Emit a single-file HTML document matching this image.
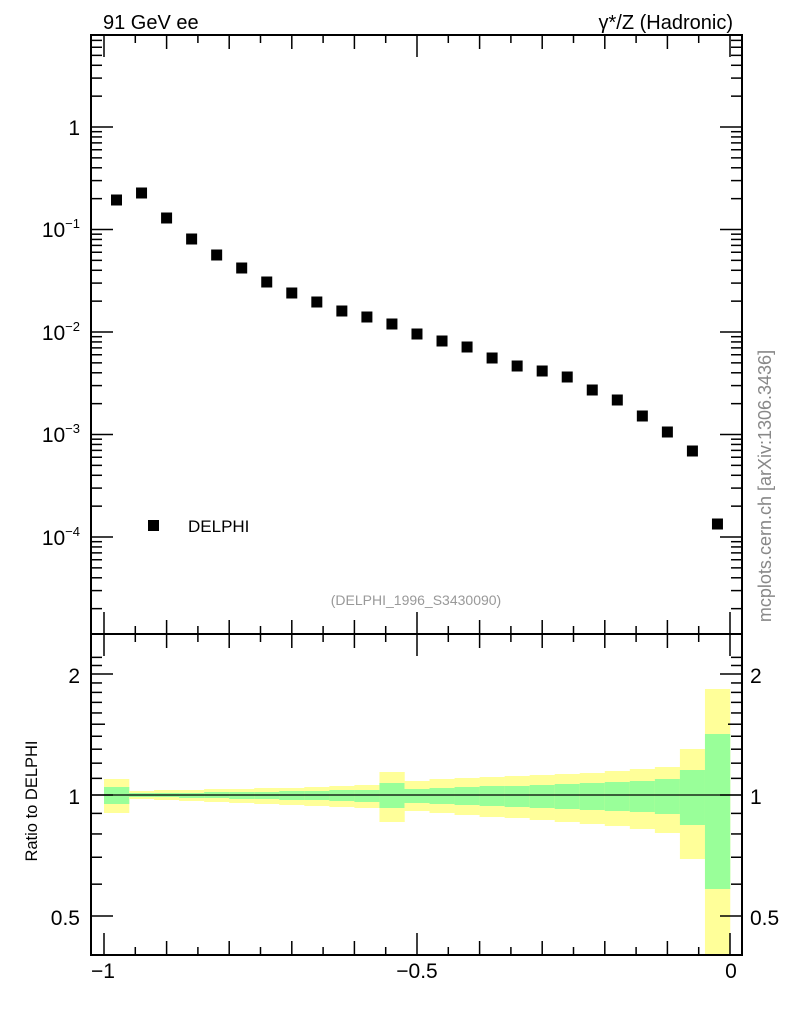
<!DOCTYPE html>
<html><head><meta charset="utf-8"><style>
html,body{margin:0;padding:0;background:#fff}
svg{display:block;font-family:"Liberation Sans",sans-serif}
</style></head><body>
<svg id="s" width="786" height="1024" viewBox="0 0 786 1024" xmlns="http://www.w3.org/2000/svg">
<rect width="786" height="1024" fill="#fff"/>
<g id="bands"></g>
<g id="ticks" stroke="#000" stroke-width="1.5"></g>
<line x1="91" y1="795" x2="742" y2="795" stroke="#000" stroke-width="1.3"/>
<rect x="91" y="35" width="651" height="599" fill="none" stroke="#000" stroke-width="2"/>
<rect x="91" y="634" width="651" height="321" fill="none" stroke="#000" stroke-width="2"/>
<g id="pts"></g>
<rect x="148" y="520" width="11" height="11" fill="#000"/>
<text x="188" y="532" font-size="17">DELPHI</text>
<text x="416" y="605" font-size="14" fill="#999" text-anchor="middle">(DELPHI_1996_S3430090)</text>
<text x="103" y="29" font-size="20">91 GeV ee</text>
<text x="733" y="29" font-size="20" text-anchor="end">γ*/Z (Hadronic)</text>
<text transform="translate(771,486) rotate(-90)" font-size="18" fill="#888" text-anchor="middle">mcplots.cern.ch [arXiv:1306.3436]</text>
<text transform="translate(37,801) rotate(-90)" font-size="16.5" text-anchor="middle">Ratio to DELPHI</text>
<g font-size="21" id="labels"></g>
</svg>
<script>
const NS="http://www.w3.org/2000/svg";
function el(p,t,a,txt){const e=document.createElementNS(NS,t);for(const k in a)e.setAttribute(k,a[k]);if(txt!==undefined)e.innerHTML=txt;document.getElementById(p).appendChild(e);return e;}
function ln(x1,y1,x2,y2){el("ticks","line",{x1,y1,x2,y2});}
const X=v=>104+(v+1)*626;
for(let i=0;i<=20;i++){const v=-1+i*0.05,x=X(v);let L=i%10==0?22:(i%2==0?14:8);
 ln(x,634,x,634-L);ln(x,35,x,35+L);ln(x,955,x,955-L);ln(x,634,x,634+L);}
const Y=l=>127-l*102.5;
for(let d=-5;d<=0;d++){for(let m=1;m<10;m++){const y=Y(d+Math.log10(m));if(y<35||y>634)continue;const L=m==1?22:11;ln(91,y,91+L,y);ln(742,y,742-L,y);}}
const R=r=>795-Math.log2(r)*121;
[0.4,0.5,0.6,0.7,0.8,0.9,1,1.1,1.2,1.3,1.4,1.5,1.6,1.7,1.8,1.9,2,2.1,2.2].forEach(r=>{const y=R(r);if(y<634||y>955)return;const L=(r==1||r==2||r==0.5)?22:(r==1.5?14:11);ln(91,y,91+L,y);ln(742,y,742-L,y);});
const lab=(x,y,t,a)=>el("labels","text",{x,y,"text-anchor":a||"end"},t);
lab(80,135,"1");
[[-1,237],[-2,340],[-3,442],[-4,545]].forEach(([d,y])=>lab(80,y,'10<tspan font-size="13" dy="-9">−'+(-d)+'</tspan>'));
lab(80,683,"2");lab(80,804,"1");lab(80,925,"0.5");
lab(750,683,"2","start");lab(750,804,"1","start");lab(750,925,"0.5","start");
lab(103,978,"−1","middle");lab(417,978,"−0.5","middle");lab(731,978,"0","middle");
const yu=[779,791,790,790,789,789,788,788,787,786,785,772,781,779,778,777,776,775,774,773,771,769,767,749,689];
const gu=[787,793,793,793,792,792,792,791,791,790,790,783,789,788,787,786,786,785,784,783,782,781,779,770,734];
const gl=[804,797,797,798,798,799,799,800,800,801,802,808,803,804,805,806,807,808,809,810,811,812,814,825,889];
const yl=[813,799,800,801,802,803,804,805,806,807,808,822,811,813,815,817,818,820,822,824,826,829,833,859,955];
for(let i=0;i<25;i++){const x=104+i*25.04;
 el("bands","rect",{x,y:yu[i],width:25.3,height:yl[i]-yu[i],fill:"#ffff99"});
 el("bands","rect",{x,y:gu[i],width:25.3,height:gl[i]-gu[i],fill:"#99ff99"});}
const py=[200,193,218,239,255,268,282,293,302,311,317,324,334,341,347,358,366,371,377,390,400,416,432,451,524];
for(let i=0;i<25;i++){const x=116.5+i*25.04;el("pts","rect",{x:x-5.5,y:py[i]-5.5,width:11,height:11,fill:"#000"});}
</script>
</body></html>
